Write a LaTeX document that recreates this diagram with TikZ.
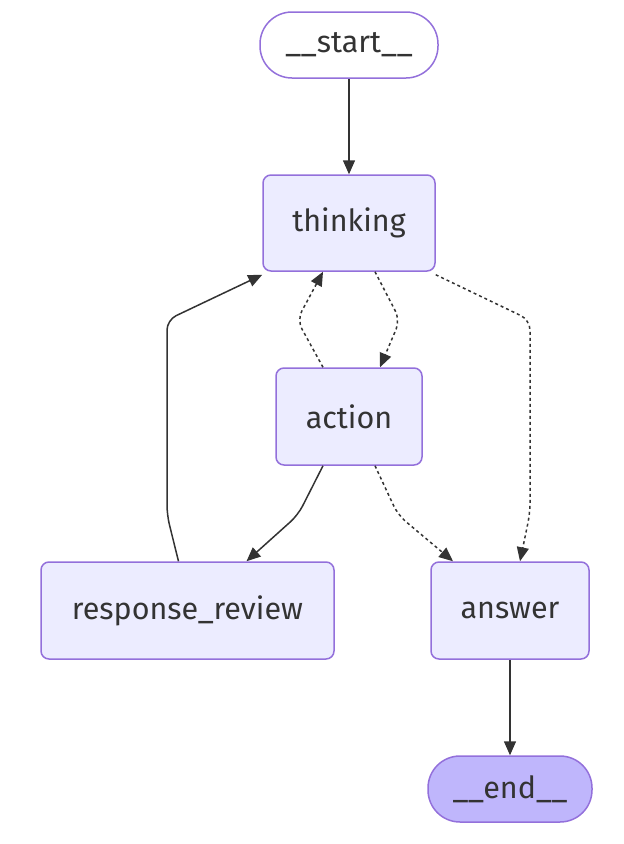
\documentclass[tikz,border=0pt]{standalone}
\usepackage{fontspec}
\setmainfont{Fira Sans}
\usetikzlibrary{arrows.meta}
\definecolor{nodefill}{HTML}{ECECFF}
\definecolor{nodeborder}{HTML}{9370DB}
\definecolor{endfill}{HTML}{BFB6FC}
\definecolor{ink}{HTML}{333333}
\tikzset{
  box/.style={draw=nodeborder, fill=nodefill, line width=1.5pt, rounded corners=8pt,
    text=ink, font=\fontsize{30.5}{34}\selectfont, inner sep=0pt},
  pill/.style={draw=nodeborder, line width=1.5pt, rounded corners=32pt,
    text=ink, font=\fontsize{30.5}{34}\selectfont, inner sep=0pt},
  edge/.style={draw=ink, line width=1.5pt, rounded corners=10pt,
    -{Triangle[length=14pt,width=12pt]}},
  cond/.style={edge, dash pattern=on 3pt off 3pt},
}
\begin{document}
\begin{tikzpicture}[x=1pt,y=-1pt]
\useasboundingbox (0,0) rectangle (624,844);
\node[pill, fill=white, minimum width=178pt, minimum height=66pt] (start) at (349,45) {\_\_start\_\_};
\node[box, minimum width=172pt, minimum height=96pt] (thinking) at (349,223) {thinking};
\node[box, minimum width=146pt, minimum height=97pt] (action) at (349,416.5) {action};
\node[box, minimum width=293pt, minimum height=97pt] (review) at (187.5,610.5) {response\_review};
\node[box, minimum width=158pt, minimum height=97pt] (answer) at (510,610.5) {answer};
\node[pill, fill=endfill, minimum width=164pt, minimum height=66pt] (end) at (510,789) {\_\_end\_\_};

\draw[edge] (start) -- (thinking);
\draw[cond] ([xshift=26pt]thinking.south) -- (400,320) -- ([xshift=31pt]action.north);
\draw[cond] ([xshift=-26pt]action.north) -- (297,320) -- ([xshift=-26pt]thinking.south);
\draw[cond] ([yshift=-3pt]thinking.south east) -- (530,320) -- (530,513) -- ([xshift=10pt]answer.north);
\draw[cond] ([xshift=26pt]action.south) -- (398,515) -- ([xshift=-57pt]answer.north);
\draw[edge] ([xshift=-26pt]action.south) -- (298,515) -- ([xshift=59pt]review.north);
\draw[edge] ([xshift=-9pt]review.north) -- (167,515) -- (167,320) -- ([yshift=-3pt]thinking.south west);
\draw[edge] (answer) -- (end);
\end{tikzpicture}
\end{document}
